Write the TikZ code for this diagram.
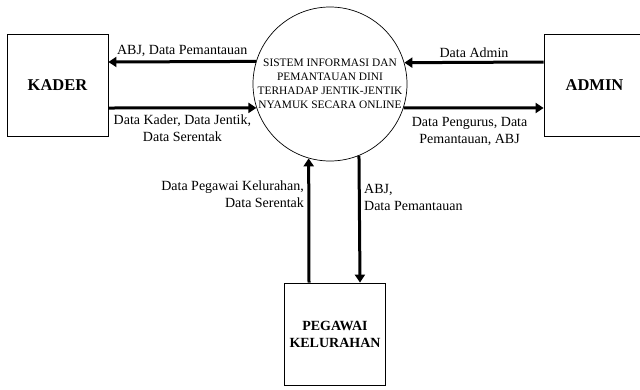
\documentclass[tikz,border=0pt]{standalone}
\usepackage{fontspec}
\setmainfont{Liberation Serif}
\usetikzlibrary{arrows.meta,positioning}
\tikzset{>={Triangle[length=8pt,width=10pt]}}
\tikzset{entity/.style={shape=rectangle, draw, line width=.8pt, minimum width=101pt,
    minimum height=102pt, inner sep=2pt, align=center, font=\bfseries}}
\tikzset{process/.style={shape=circle, draw, line width=.7pt, minimum size=154pt,
    inner sep=0pt, align=center, font=\fontsize{11.4}{14}\selectfont}}
\tikzset{flow/.style={->, line width=3pt}}
\tikzset{lbl/.style={font=\fontsize{14}{16.5}\selectfont}}

\begin{document}
\begin{tikzpicture}[x=1pt, y=-1pt]
    \useasboundingbox (0,0) rectangle (640,389);
    \node[entity, font=\bfseries\fontsize{16.5}{20}\selectfont] (kader) at (57.5,85) {KADER};
    \node[entity, font=\bfseries\fontsize{16.5}{20}\selectfont] (admin) at (594.5,85) {ADMIN};
    \node[entity, font=\bfseries\fontsize{14}{17}\selectfont] (pegawai) at (335,334) {PEGAWAI\\KELURAHAN};
    \node[process] (sistem) at (330,84) {SISTEM INFORMASI DAN\\PEMANTAUAN DINI\\TERHADAP JENTIK-JENTIK\\NYAMUK SECARA ONLINE};
    % kader
    \path (sistem.163.4) edge[flow] node[lbl, above] {ABJ, Data Pemantauan} ([yshift=23pt]kader.east);
    \path ([yshift=-23pt]kader.east) edge[flow] node[lbl, below, yshift=-2pt, align=center]
      {Data Kader, Data Jentik,\\Data Serentak} (sistem.198.2);
    % admin
    \path ([yshift=23pt]admin.west) edge[flow] node[lbl, above] {Data Admin} (sistem.16.6);
    \path (sistem.-18.2) edge[flow] node[lbl, below, yshift=-5pt, xshift=-4pt, align=center]
      {Data Pengurus, Data\\Pemantauan, ABJ} ([yshift=-23pt]admin.west);
    % pegawai
    \path ([xshift=-26pt]pegawai.north) edge[flow] node[lbl, left, pos=.71, align=right]
      {Data Pegawai Kelurahan,\\Data Serentak} (sistem.254.2);
    \path (sistem.292.9) edge[flow] node[lbl, right, pos=.33, align=left]
      {ABJ,\\Data Pemantauan} ([xshift=25pt]pegawai.north);
\end{tikzpicture}
\end{document}
